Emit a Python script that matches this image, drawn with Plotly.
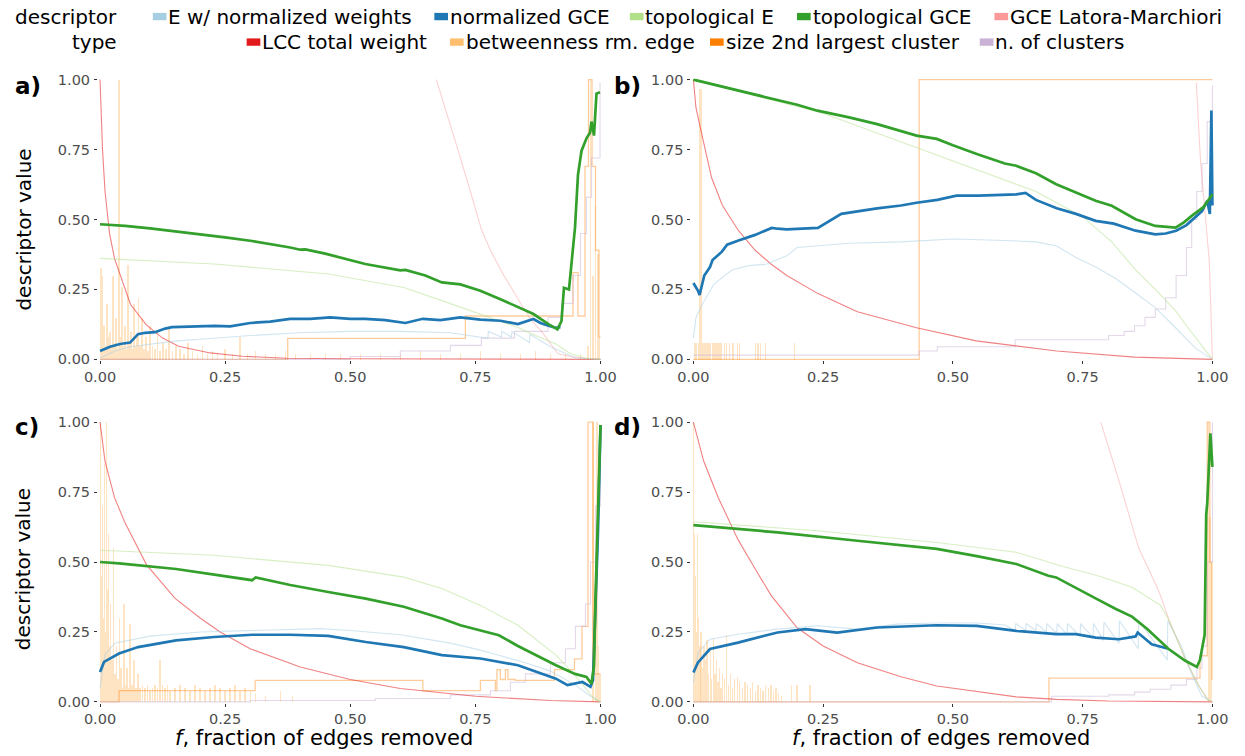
import plotly.graph_objects as go

W, H = 1245, 756
FONT = "DejaVu Sans"

TICK_VALS = [0, 0.25, 0.5, 0.75, 1.0]
TICK_TEXT = ["0.00", "0.25", "0.50", "0.75", "1.00"]

SERIES_KEYS = ["ew", "ngce", "te", "tgce", "lm", "lcc", "btw", "s2", "nc"]
SERIES_NAMES = ["E w/ normalized weights", "normalized GCE", "topological E", "topological GCE",
                "GCE Latora-Marchiori", "LCC total weight", "betweenness rm. edge",
                "size 2nd largest cluster", "n. of clusters"]
SERIES_COLORS = ["#A6CEE3", "#1F78B4", "#B2DF8A", "#33A02C", "#FB9A99",
                 "#E31A1C", "#FDBF6F", "#FF7F00", "#CAB2D6"]

# ---------------- panel a ----------------
a_ew_f = [0, 0.03, 0.06, 0.10, 0.15, 0.20, 0.30, 0.40, 0.50, 0.60, 0.70, 0.775, 0.776, 0.802, 0.803, 0.822, 0.823, 0.858, 0.859, 0.90, 0.92, 0.95, 1.0]
a_ew_v = [0.005, 0.03, 0.045, 0.055, 0.065, 0.072, 0.085, 0.095, 0.10, 0.10, 0.095, 0.075, 0.10, 0.08, 0.10, 0.08, 0.10, 0.06, 0.09, 0.045, 0.03, 0.005, 0.0]
a_ngce_f = [0, 0.02, 0.04, 0.06, 0.076, 0.09, 0.11, 0.13, 0.144, 0.18, 0.228, 0.26, 0.30, 0.34, 0.38, 0.42, 0.46, 0.50, 0.53, 0.57, 0.61, 0.645, 0.68, 0.72, 0.76, 0.80, 0.835, 0.866, 0.88, 0.896, 0.91, 0.92]
a_ngce_v = [0.03, 0.045, 0.055, 0.06, 0.09, 0.095, 0.097, 0.11, 0.115, 0.118, 0.12, 0.118, 0.13, 0.135, 0.145, 0.145, 0.15, 0.145, 0.145, 0.14, 0.13, 0.145, 0.14, 0.15, 0.142, 0.138, 0.126, 0.144, 0.13, 0.12, 0.113, 0.115]
a_te_f = [0, 0.228, 0.456, 0.607, 0.683, 0.76, 0.835, 0.87, 0.911, 0.94, 0.97, 1.0]
a_te_v = [0.361, 0.341, 0.305, 0.257, 0.21, 0.162, 0.114, 0.085, 0.055, 0.02, 0.005, 0.0]
a_tgce_f = [0, 0.05, 0.10, 0.15, 0.20, 0.25, 0.30, 0.35, 0.38, 0.40, 0.41, 0.45, 0.50, 0.53, 0.60, 0.61, 0.65, 0.683, 0.72, 0.76, 0.80, 0.835, 0.866, 0.896, 0.914, 0.922, 0.927, 0.937, 0.942, 0.949, 0.955, 0.962, 0.972, 0.979, 0.982, 0.987, 0.992, 0.999]
a_tgce_v = [0.483, 0.477, 0.468, 0.458, 0.447, 0.436, 0.424, 0.41, 0.40, 0.392, 0.393, 0.378, 0.356, 0.341, 0.318, 0.32, 0.30, 0.275, 0.268, 0.245, 0.215, 0.186, 0.162, 0.126, 0.107, 0.137, 0.256, 0.25, 0.35, 0.47, 0.66, 0.745, 0.79, 0.81, 0.85, 0.80, 0.95, 0.955]
a_lm_f = [0.672, 0.70, 0.72, 0.74, 0.762, 0.78, 0.802, 0.842, 0.862, 0.882, 0.902, 0.915, 0.94, 0.97, 1.0]
a_lm_v = [1.0, 0.84, 0.72, 0.60, 0.465, 0.39, 0.315, 0.195, 0.14, 0.10, 0.05, 0.02, 0.01, 0.003, 0.0]
a_lcc_f = [0, 0.005, 0.01, 0.019, 0.029, 0.042, 0.061, 0.092, 0.125, 0.157, 0.22, 0.284, 0.374, 0.5, 1.0]
a_lcc_v = [1.0, 0.75, 0.60, 0.45, 0.36, 0.29, 0.196, 0.124, 0.076, 0.047, 0.023, 0.011, 0.004, 0.002, 0.0]
a_btw_f = [0.002, 0.005, 0.008, 0.011, 0.014, 0.017, 0.020, 0.023, 0.026, 0.029, 0.032, 0.035, 0.038, 0.041, 0.044, 0.047, 0.050, 0.053, 0.056, 0.059, 0.062, 0.065, 0.068, 0.071, 0.074, 0.077, 0.080, 0.084, 0.088, 0.092, 0.096, 0.100, 0.105, 0.110, 0.115, 0.120, 0.126, 0.132, 0.138, 0.145, 0.152, 0.160, 0.168, 0.176, 0.185, 0.195, 0.205, 0.215, 0.225, 0.235, 0.25, 0.265, 0.28, 0.295, 0.31, 0.33, 0.35, 0.37, 0.39, 0.42, 0.45, 0.48, 0.52, 0.56, 0.60, 0.64, 0.68, 0.72, 0.76, 0.80, 0.84, 0.87, 0.90, 0.93, 0.96, 0.975, 0.98, 0.985, 0.99, 0.995, 0.998]
a_btw_v = [0.33, 0.30, 0.12, 0.05, 0.20, 0.08, 0.10, 0.05, 0.30, 0.06, 0.15, 0.04, 1.0, 0.08, 0.26, 0.05, 0.12, 0.04, 0.34, 0.06, 0.10, 0.04, 0.20, 0.05, 0.08, 0.22, 0.05, 0.15, 0.04, 0.08, 0.03, 0.12, 0.05, 0.04, 0.10, 0.03, 0.06, 0.04, 0.12, 0.03, 0.05, 0.04, 0.02, 0.06, 0.03, 0.02, 0.05, 0.02, 0.03, 0.02, 0.04, 0.02, 0.08, 0.02, 0.03, 0.02, 0.02, 0.03, 0.02, 0.02, 0.02, 0.02, 0.02, 0.02, 0.02, 0.03, 0.02, 0.02, 0.03, 0.02, 0.02, 0.03, 0.02, 0.02, 0.02, 0.05, 1.0, 0.30, 0.55, 0.38, 0.08]
a_s2_f = [0, 0.375, 0.73, 0.945, 0.955, 0.969, 0.976, 0.983, 0.99, 0.997, 1.0]
a_s2_v = [0, 0.075, 0.155, 0.31, 0.155, 0.69, 1.0, 0.69, 0.39, 0.08, 0.08]
a_nc_f = [0, 0.45, 0.50, 0.60, 0.70, 0.762, 0.828, 0.895, 0.922, 0.945, 0.96, 0.972, 0.982, 0.999]
a_nc_v = [0, 0.0, 0.01, 0.03, 0.05, 0.076, 0.10, 0.15, 0.20, 0.30, 0.45, 0.58, 0.72, 0.99]

# ---------------- panel b ----------------
b_ew_f = [0, 0.005, 0.018, 0.04, 0.075, 0.107, 0.14, 0.18, 0.20, 0.24, 0.30, 0.40, 0.50, 0.60, 0.66, 0.70, 0.737, 0.775, 0.813, 0.85, 0.89, 0.929, 0.967, 1.0]
b_ew_v = [0.076, 0.15, 0.20, 0.27, 0.32, 0.335, 0.34, 0.37, 0.40, 0.405, 0.415, 0.42, 0.43, 0.425, 0.42, 0.405, 0.364, 0.33, 0.29, 0.24, 0.185, 0.113, 0.04, 0.0]
b_ngce_f = [0, 0.009, 0.012, 0.021, 0.032, 0.037, 0.055, 0.065, 0.087, 0.119, 0.151, 0.162, 0.18, 0.24, 0.285, 0.32, 0.354, 0.40, 0.43, 0.47, 0.507, 0.55, 0.60, 0.622, 0.64, 0.66, 0.70, 0.737, 0.775, 0.81, 0.852, 0.89, 0.91, 0.93, 0.95, 0.967, 0.98, 0.99, 0.995, 0.998, 1.0]
b_ngce_v = [0.273, 0.245, 0.23, 0.30, 0.33, 0.355, 0.385, 0.41, 0.425, 0.445, 0.47, 0.467, 0.465, 0.47, 0.52, 0.53, 0.54, 0.55, 0.56, 0.57, 0.585, 0.585, 0.59, 0.59, 0.595, 0.57, 0.54, 0.52, 0.495, 0.485, 0.46, 0.447, 0.45, 0.46, 0.48, 0.507, 0.53, 0.567, 0.52, 0.89, 0.55]
b_te_f = [0, 0.25, 0.44, 0.60, 0.66, 0.70, 0.75, 0.806, 0.852, 0.89, 0.929, 0.95, 0.98, 1.0]
b_te_v = [1.0, 0.88, 0.75, 0.64, 0.60, 0.56, 0.51, 0.42, 0.32, 0.25, 0.173, 0.12, 0.05, 0.0]
b_tgce_f = [0, 0.10, 0.20, 0.239, 0.30, 0.354, 0.43, 0.469, 0.50, 0.546, 0.60, 0.622, 0.66, 0.699, 0.737, 0.775, 0.806, 0.852, 0.89, 0.929, 0.945, 0.96, 0.982, 1.0]
b_tgce_v = [1.0, 0.955, 0.91, 0.889, 0.865, 0.841, 0.80, 0.788, 0.765, 0.734, 0.70, 0.692, 0.665, 0.626, 0.597, 0.567, 0.549, 0.501, 0.477, 0.471, 0.49, 0.513, 0.543, 0.59]
b_lm_f = [0.969, 0.977, 0.994, 1.0]
b_lm_v = [0.99, 0.71, 0.35, 0.0]
b_lcc_f = [0, 0.005, 0.018, 0.035, 0.056, 0.087, 0.119, 0.15, 0.18, 0.24, 0.316, 0.43, 0.545, 0.70, 0.85, 1.0]
b_lcc_v = [1.0, 0.90, 0.79, 0.65, 0.55, 0.46, 0.39, 0.34, 0.30, 0.235, 0.17, 0.113, 0.066, 0.03, 0.008, 0.0]
b_btw_f = [0.004, 0.007, 0.010, 0.013, 0.016, 0.019, 0.022, 0.025, 0.028, 0.031, 0.034, 0.037, 0.040, 0.043, 0.046, 0.049, 0.052, 0.055, 0.060, 0.065, 0.070, 0.077, 0.085, 0.090, 0.120, 0.125, 0.130, 0.140, 0.195]
b_btw_v = [0.06, 0.06, 0.06, 0.97, 0.97, 0.06, 0.06, 0.06, 0.06, 0.06, 0.06, 0.06, 0.06, 0.06, 0.06, 0.06, 0.06, 0.06, 0.06, 0.06, 0.06, 0.06, 0.06, 0.06, 0.06, 0.06, 0.06, 0.06, 0.06]
b_s2_f = [0, 0.435, 1.0]
b_s2_v = [0, 1.0, 1.0]
b_nc_f = [0, 0.435, 0.47, 0.62, 0.80, 0.83, 0.85, 0.87, 0.89, 0.91, 0.93, 0.95, 0.96, 0.97, 0.98, 0.99, 1.0]
b_nc_v = [0.015, 0.03, 0.045, 0.07, 0.085, 0.10, 0.12, 0.15, 0.18, 0.22, 0.30, 0.40, 0.50, 0.60, 0.70, 0.85, 0.98]

# ---------------- panel c ----------------
c_ew_f = [0, 0.01, 0.03, 0.10, 0.20, 0.30, 0.44, 0.50, 0.60, 0.70, 0.76, 0.80, 0.85, 0.90, 0.95, 0.98, 1.0]
c_ew_v = [0.05, 0.17, 0.21, 0.235, 0.25, 0.255, 0.262, 0.255, 0.24, 0.21, 0.185, 0.165, 0.14, 0.11, 0.06, 0.02, 0.0]
c_ngce_f = [0, 0.008, 0.038, 0.076, 0.152, 0.228, 0.304, 0.38, 0.456, 0.531, 0.607, 0.683, 0.76, 0.835, 0.911, 0.934, 0.964, 0.98, 0.985, 0.989, 0.995, 1.0]
c_ngce_v = [0.107, 0.143, 0.173, 0.196, 0.22, 0.232, 0.24, 0.24, 0.236, 0.214, 0.196, 0.167, 0.155, 0.131, 0.083, 0.06, 0.071, 0.054, 0.077, 0.31, 0.61, 0.99]
c_te_f = [0, 0.228, 0.456, 0.607, 0.683, 0.76, 0.835, 0.911, 0.949, 0.987, 1.0]
c_te_v = [0.542, 0.524, 0.488, 0.446, 0.405, 0.345, 0.274, 0.167, 0.095, 0.012, 0.0]
c_tgce_f = [0, 0.038, 0.152, 0.228, 0.304, 0.311, 0.38, 0.456, 0.531, 0.607, 0.683, 0.72, 0.797, 0.835, 0.911, 0.949, 0.972, 0.982, 0.987, 0.99, 0.995, 1.0]
c_tgce_v = [0.50, 0.495, 0.475, 0.455, 0.435, 0.445, 0.418, 0.393, 0.369, 0.34, 0.298, 0.274, 0.238, 0.20, 0.131, 0.10, 0.089, 0.065, 0.13, 0.37, 0.73, 0.99]
c_lcc_f = [0, 0.01, 0.029, 0.05, 0.093, 0.15, 0.20, 0.24, 0.30, 0.40, 0.50, 0.60, 0.75, 0.90, 1.0]
c_lcc_v = [1.0, 0.86, 0.73, 0.64, 0.49, 0.37, 0.30, 0.25, 0.19, 0.125, 0.08, 0.048, 0.02, 0.005, 0.0]
c_btw_f = [0.001, 0.003, 0.005, 0.007, 0.009, 0.011, 0.013, 0.015, 0.017, 0.019, 0.021, 0.024, 0.027, 0.030, 0.033, 0.036, 0.039, 0.042, 0.045, 0.048, 0.051, 0.054, 0.057, 0.060, 0.064, 0.068, 0.072, 0.076, 0.080, 0.085, 0.090, 0.095, 0.100, 0.105, 0.110, 0.115, 0.120, 0.125, 0.130, 0.135, 0.140, 0.150, 0.160, 0.170, 0.180, 0.190, 0.200, 0.210, 0.220, 0.230, 0.240, 0.250, 0.260, 0.270, 0.280, 0.290, 0.300, 0.310, 0.330, 0.360, 0.385, 0.985, 0.990, 0.993, 0.996, 0.999]
c_btw_v = [1.0, 0.45, 0.70, 0.30, 0.85, 0.25, 1.0, 0.40, 0.60, 0.20, 0.35, 0.15, 0.55, 0.10, 0.20, 0.08, 0.30, 0.12, 0.05, 0.35, 0.06, 0.12, 0.05, 0.28, 0.06, 0.15, 0.05, 0.10, 0.05, 0.06, 0.05, 0.06, 0.04, 0.05, 0.06, 0.05, 0.15, 0.06, 0.05, 0.06, 0.04, 0.05, 0.06, 0.05, 0.04, 0.06, 0.05, 0.04, 0.05, 0.06, 0.05, 0.04, 0.05, 0.06, 0.04, 0.05, 0.04, 0.03, 0.02, 0.04, 0.02, 1.0, 0.35, 1.0, 0.20, 0.10]
c_s2_f = [0, 0.038, 0.31, 0.645, 0.76, 0.79, 0.793, 0.80, 0.81, 0.815, 0.83, 0.908, 0.948, 0.963, 0.975, 0.985, 1.0]
c_s2_v = [0, 0.04, 0.077, 0.04, 0.077, 0.04, 0.115, 0.08, 0.115, 0.08, 0.077, 0.115, 0.154, 0.27, 1.0, 0.10, 0.10]
c_nc_f = [0, 0.30, 0.55, 0.70, 0.78, 0.82, 0.85, 0.90, 0.93, 0.95, 0.97, 0.98, 0.99, 1.0]
c_nc_v = [0, 0.005, 0.012, 0.025, 0.04, 0.07, 0.10, 0.14, 0.19, 0.27, 0.35, 0.50, 0.70, 0.95]

# ---------------- panel d ----------------
d_ew_f = [0, 0.009, 0.032, 0.086, 0.162, 0.239, 0.316, 0.392, 0.469, 0.546, 0.60, 0.62, 0.621, 0.64, 0.641, 0.66, 0.661, 0.68, 0.681, 0.70, 0.701, 0.72, 0.721, 0.745, 0.746, 0.77, 0.771, 0.79, 0.791, 0.82, 0.821, 0.857, 0.858, 0.913, 0.914, 0.94, 0.96, 0.98, 1.0]
d_ew_v = [0.07, 0.177, 0.224, 0.242, 0.26, 0.272, 0.26, 0.278, 0.282, 0.282, 0.275, 0.255, 0.28, 0.255, 0.28, 0.255, 0.28, 0.25, 0.28, 0.245, 0.28, 0.24, 0.28, 0.235, 0.28, 0.23, 0.28, 0.22, 0.285, 0.21, 0.29, 0.19, 0.29, 0.15, 0.29, 0.20, 0.10, 0.02, 0.0]
d_ngce_f = [0, 0.009, 0.032, 0.086, 0.162, 0.216, 0.277, 0.354, 0.469, 0.546, 0.622, 0.699, 0.737, 0.775, 0.82, 0.852, 0.856, 0.883, 0.913]
d_ngce_v = [0.105, 0.141, 0.189, 0.212, 0.248, 0.26, 0.248, 0.266, 0.274, 0.272, 0.254, 0.242, 0.242, 0.23, 0.224, 0.234, 0.248, 0.206, 0.191]
d_te_f = [0, 0.239, 0.469, 0.622, 0.684, 0.70, 0.781, 0.845, 0.90, 0.915, 0.947, 0.973, 0.992, 1.0]
d_te_v = [0.644, 0.612, 0.57, 0.535, 0.50, 0.49, 0.45, 0.41, 0.345, 0.296, 0.155, 0.06, 0.005, 0.0]
d_tgce_f = [0, 0.162, 0.316, 0.469, 0.546, 0.622, 0.684, 0.699, 0.775, 0.814, 0.845, 0.875, 0.915, 0.947, 0.97, 0.976, 0.985, 0.988, 0.99, 0.996, 1.0]
d_tgce_v = [0.632, 0.606, 0.576, 0.547, 0.521, 0.493, 0.451, 0.445, 0.37, 0.332, 0.305, 0.26, 0.19, 0.148, 0.125, 0.15, 0.24, 0.67, 0.71, 0.96, 0.84]
d_lm_f = [0.785, 0.82, 0.858, 0.897, 0.915, 0.947, 0.973, 0.992, 1.0]
d_lm_v = [1.0, 0.79, 0.55, 0.395, 0.30, 0.155, 0.06, 0.005, 0.0]
d_lcc_f = [0, 0.02, 0.048, 0.086, 0.124, 0.15, 0.20, 0.25, 0.316, 0.40, 0.469, 0.55, 0.622, 0.70, 0.80, 1.0]
d_lcc_v = [1.0, 0.86, 0.73, 0.58, 0.46, 0.38, 0.265, 0.20, 0.14, 0.09, 0.057, 0.035, 0.018, 0.009, 0.003, 0.0]
d_btw_f = [0.001, 0.003, 0.005, 0.007, 0.009, 0.011, 0.013, 0.015, 0.018, 0.021, 0.024, 0.027, 0.030, 0.033, 0.036, 0.039, 0.042, 0.045, 0.048, 0.051, 0.054, 0.057, 0.060, 0.064, 0.068, 0.072, 0.076, 0.080, 0.085, 0.090, 0.095, 0.100, 0.105, 0.110, 0.115, 0.120, 0.125, 0.130, 0.135, 0.140, 0.145, 0.150, 0.155, 0.160, 0.165, 0.170, 0.190, 0.200, 0.225, 0.993, 0.996, 0.999]
d_btw_v = [1.0, 0.60, 0.45, 0.25, 0.60, 0.30, 0.20, 0.25, 0.12, 0.20, 0.15, 0.22, 0.10, 0.18, 0.08, 0.23, 0.10, 0.15, 0.07, 0.12, 0.05, 0.10, 0.08, 0.24, 0.06, 0.10, 0.05, 0.08, 0.09, 0.07, 0.05, 0.07, 0.06, 0.05, 0.07, 0.04, 0.06, 0.05, 0.04, 0.06, 0.05, 0.06, 0.04, 0.05, 0.03, 0.02, 0.06, 0.06, 0.06, 1.0, 0.66, 0.50]
d_s2_f = [0, 0.685, 0.976, 0.99, 0.995, 0.999, 1.0]
d_s2_v = [0, 0.085, 0.165, 1.0, 0.50, 0.08, 0.08]
d_nc_f = [0, 0.685, 0.69, 0.80, 0.85, 0.88, 0.92, 0.95, 0.97, 0.98, 0.99, 1.0]
d_nc_v = [0, 0.0, 0.02, 0.025, 0.035, 0.045, 0.06, 0.08, 0.12, 0.20, 0.50, 1.0]

PANELS = {
    "a": {"ew": (a_ew_f, a_ew_v), "ngce": (a_ngce_f, a_ngce_v), "te": (a_te_f, a_te_v),
          "tgce": (a_tgce_f, a_tgce_v), "lm": (a_lm_f, a_lm_v), "lcc": (a_lcc_f, a_lcc_v),
          "btw": (a_btw_f, a_btw_v), "s2": (a_s2_f, a_s2_v), "nc": (a_nc_f, a_nc_v)},
    "b": {"ew": (b_ew_f, b_ew_v), "ngce": (b_ngce_f, b_ngce_v), "te": (b_te_f, b_te_v),
          "tgce": (b_tgce_f, b_tgce_v), "lm": (b_lm_f, b_lm_v), "lcc": (b_lcc_f, b_lcc_v),
          "btw": (b_btw_f, b_btw_v), "s2": (b_s2_f, b_s2_v), "nc": (b_nc_f, b_nc_v)},
    "c": {"ew": (c_ew_f, c_ew_v), "ngce": (c_ngce_f, c_ngce_v), "te": (c_te_f, c_te_v),
          "tgce": (c_tgce_f, c_tgce_v), "lcc": (c_lcc_f, c_lcc_v),
          "btw": (c_btw_f, c_btw_v), "s2": (c_s2_f, c_s2_v), "nc": (c_nc_f, c_nc_v)},
    "d": {"ew": (d_ew_f, d_ew_v), "ngce": (d_ngce_f, d_ngce_v), "te": (d_te_f, d_te_v),
          "tgce": (d_tgce_f, d_tgce_v), "lm": (d_lm_f, d_lm_v), "lcc": (d_lcc_f, d_lcc_v),
          "btw": (d_btw_f, d_btw_v), "s2": (d_s2_f, d_s2_v), "nc": (d_nc_f, d_nc_v)},
}

# styling: alpha, width, shape
STYLE = {
    "ew": (0.5, 1.1, "linear"),
    "ngce": (1.0, 2.7, "linear"),
    "te": (0.5, 1.1, "linear"),
    "tgce": (1.0, 2.7, "linear"),
    "lm": (0.45, 1.1, "linear"),
    "lcc": (0.55, 1.1, "linear"),
    "btw": (0.42, 1.0, "bar"),
    "s2": (0.4, 1.3, "hv"),
    "nc": (0.5, 1.1, "hv"),
}
DRAW_ORDER = ["btw", "s2", "nc", "lcc", "lm", "ew", "te", "ngce", "tgce"]

# pixel boxes of the panels: (x at f=0, x at f=1, y at v=1, y at v=0)
BOX = {"a": (88, 600, 74, 359), "b": (695, 1226, 74, 359),
       "c": (88, 600, 423, 708), "d": (695, 1226, 423, 708)}
AXIS_ID = {"a": "", "b": "2", "c": "3", "d": "4"}
PAD = 0.004


def px(x):
    return x / W


def py(y):
    return 1 - y / H


def rgba(hexcol, a):
    h = hexcol.lstrip("#")
    r, g, b = int(h[0:2], 16), int(h[2:4], 16), int(h[4:6], 16)
    return f"rgba({r},{g},{b},{a})"


fig = go.Figure()

for p, series in PANELS.items():
    sid = AXIS_ID[p]
    xa, ya = "x" + sid, "y" + sid
    for key in DRAW_ORDER:
        if key not in series:
            continue
        f, v = series[key]
        idx = SERIES_KEYS.index(key)
        col = SERIES_COLORS[idx]
        alpha, width, shape = STYLE[key]
        if shape == "bar":
            fig.add_trace(go.Bar(x=f, y=v, width=0.0026, marker=dict(color=rgba(col, alpha), line=dict(width=0)),
                                 xaxis=xa, yaxis=ya, showlegend=False, name=SERIES_NAMES[idx]))
        else:
            fig.add_trace(go.Scatter(x=f, y=v, mode="lines", line=dict(color=rgba(col, alpha), width=width, shape=shape),
                                     xaxis=xa, yaxis=ya, showlegend=False, name=SERIES_NAMES[idx]))

layout_axes = {}
for p, (x0, x1, y0, y1) in BOX.items():
    sid = AXIS_ID[p]
    dx = PAD * (x1 - x0)
    dy = PAD * (y1 - y0)
    xdom = [px(x0 - dx), px(x1 + dx)]
    ydom = [py(y1 + dy), py(y0 - dy)]
    common = dict(range=[-PAD, 1 + PAD], tickvals=TICK_VALS, ticktext=TICK_TEXT, ticks="outside",
                  ticklen=3, tickwidth=1, tickcolor="#333333", showgrid=False, zeroline=False,
                  showline=False, tickfont=dict(family=FONT, size=14.5, color="#4d4d4d"))
    layout_axes["xaxis" + sid] = dict(domain=xdom, anchor="y" + sid, **common)
    layout_axes["yaxis" + sid] = dict(domain=ydom, anchor="x" + sid, ticklabelstandoff=1, **common)

annotations = []
shapes = []


def text_ann(text, x, y, xanchor="left", size=20, angle=0):
    return dict(text=text, x=px(x), y=py(y), xref="paper", yref="paper",
                xanchor=xanchor, yanchor="middle", showarrow=False, textangle=angle,
                borderpad=0, font=dict(family=FONT, size=size, color="black"))


# axis titles
annotations.append(text_ann("descriptor value", 10, 227, xanchor="center", angle=-90))
annotations.append(text_ann("descriptor value", 10, 573, xanchor="center", angle=-90))
annotations.append(text_ann("<i>f</i>, fraction of edges removed", 317, 745, xanchor="center", size=21))
annotations.append(text_ann("<i>f</i>, fraction of edges removed", 948, 745, xanchor="center", size=21))

# panel tags
TAG_POS = {"a": (0, 81), "b": (613, 81), "c": (0, 428), "d": (613, 428)}
for p, (tx, ty) in TAG_POS.items():
    annotations.append(text_ann(f"<b>{p})</b>", tx, ty, size=23))

# legend (title + keys); the two key rows are centred on each other
ROW_Y = [10, 36]
annotations.append(text_ann("descriptor", 106, ROW_Y[0], xanchor="right"))
annotations.append(text_ann("type", 106, ROW_Y[1], xanchor="right"))
LEG_ROW = [0, 0, 0, 0, 0, 1, 1, 1, 1]
LEG_KEY_X = [142, 430, 630, 801, 1003, 238, 446, 712, 988]
for i, name in enumerate(SERIES_NAMES):
    ry = ROW_Y[LEG_ROW[i]]
    kx = LEG_KEY_X[i]
    shapes.append(dict(type="rect", xref="paper", yref="paper",
                       x0=px(kx), x1=px(kx + 14), y0=py(ry + 3.5), y1=py(ry - 4),
                       fillcolor=SERIES_COLORS[i], line=dict(width=0)))
    annotations.append(text_ann(name, kx + 15, ry))

fig.update_layout(
    width=W, height=H,
    margin=dict(l=0, r=0, t=0, b=0),
    paper_bgcolor="white", plot_bgcolor="white",
    showlegend=False,
    hovermode=False,
    bargap=0,
    annotations=annotations,
    shapes=shapes,
    **layout_axes,
)

# the page's default 8px body margin would push the figure out of the window
fig.write_html("out.html", config={"displayModeBar": False},
               post_script="document.body.style.margin='0px';document.body.style.overflow='hidden';")
